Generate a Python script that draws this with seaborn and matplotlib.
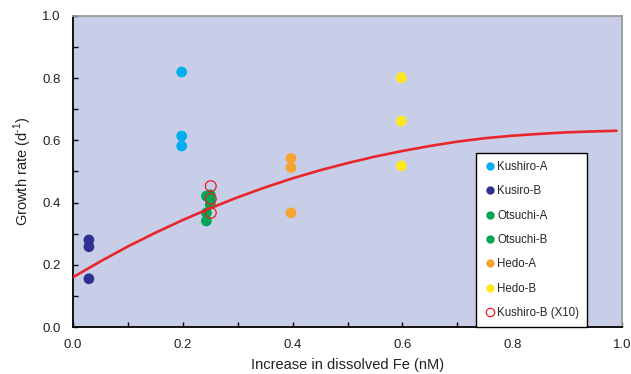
import matplotlib
matplotlib.use("Agg")
import matplotlib.pyplot as plt
from matplotlib.lines import Line2D
from matplotlib.ticker import MultipleLocator
import seaborn as sns
import pandas as pd

# ---- data ----
kushiro_a_x = [0.198, 0.198, 0.198]
kushiro_a_y = [0.820, 0.614, 0.582]
kusiro_b_x = [0.029, 0.029, 0.029]
kusiro_b_y = [0.280, 0.258, 0.155]
otsuchi_a_x = [0.243, 0.243, 0.243]
otsuchi_a_y = [0.421, 0.367, 0.341]
otsuchi_b_x = [0.250, 0.250, 0.250]
otsuchi_b_y = [0.425, 0.410, 0.394]
hedo_a_x = [0.397, 0.397, 0.397]
hedo_a_y = [0.542, 0.513, 0.367]
hedo_b_x = [0.598, 0.598, 0.598]
hedo_b_y = [0.802, 0.662, 0.518]
kushiro_b10_x = [0.251, 0.251, 0.251]
kushiro_b10_y = [0.453, 0.412, 0.367]

fit_x = [0.0, 0.05, 0.1, 0.15, 0.2, 0.25, 0.3, 0.35, 0.4, 0.45, 0.5, 0.55, 0.6, 0.65, 0.7, 0.75, 0.8, 0.85, 0.9, 0.95, 0.99]
fit_y = [0.160, 0.211, 0.259, 0.303, 0.344, 0.382, 0.417, 0.449, 0.478, 0.504, 0.527, 0.548, 0.566, 0.582, 0.596, 0.607, 0.615, 0.621, 0.626, 0.629, 0.631]

series = ["Kushiro-A", "Kusiro-B", "Otsuchi-A", "Otsuchi-B", "Hedo-A", "Hedo-B"]
colors = ["#00AEEF", "#2E3192", "#00A651", "#00A651", "#F5A331", "#FFE81F"]
open_label = "Kushiro-B (X10)"
red = "#ED1C24"

xs = [kushiro_a_x, kusiro_b_x, otsuchi_a_x, otsuchi_b_x, hedo_a_x, hedo_b_x]
ys = [kushiro_a_y, kusiro_b_y, otsuchi_a_y, otsuchi_b_y, hedo_a_y, hedo_b_y]
rows = []
for name, xv, yv in zip(series, xs, ys):
    for a, b in zip(xv, yv):
        rows.append({"x": a, "y": b, "site": name})
df = pd.DataFrame(rows)
df_open = pd.DataFrame({"x": kushiro_b10_x, "y": kushiro_b10_y})
df_fit = pd.DataFrame({"x": fit_x, "y": fit_y})

sns.set_theme(style="white")
plt.rcParams["font.family"] = ["Liberation Sans", "DejaVu Sans"]
plt.rcParams["mathtext.fontset"] = "custom"
plt.rcParams["mathtext.rm"] = "Liberation Sans"

fig = plt.figure(figsize=(6.31, 3.74), dpi=100)
ax = fig.add_axes([73 / 631, 1 - 327 / 374, 549 / 631, 311 / 374])
ax.set_facecolor("#C9CEE8")

sns.scatterplot(data=df, x="x", y="y", hue="site", hue_order=series,
                palette=dict(zip(series, colors)), s=60, linewidth=0,
                legend=False, ax=ax, zorder=3)
sns.lineplot(data=df_fit, x="x", y="y", color="#E8262B", linewidth=1.9,
             ax=ax, zorder=4)
sns.scatterplot(data=df_open, x="x", y="y", s=60, facecolors="none",
                edgecolor=red, linewidth=0.9, ax=ax, zorder=5)

ax.set_xlim(0, 1.0)
ax.set_ylim(0, 1.0)
ax.xaxis.set_major_locator(MultipleLocator(0.2))
ax.xaxis.set_minor_locator(MultipleLocator(0.1))
ax.yaxis.set_major_locator(MultipleLocator(0.2))
ax.yaxis.set_minor_locator(MultipleLocator(0.1))
ax.xaxis.set_major_formatter(matplotlib.ticker.FormatStrFormatter("%.1f"))
ax.yaxis.set_major_formatter(matplotlib.ticker.FormatStrFormatter("%.1f"))
ax.tick_params(which="both", direction="in", length=3.5, width=1.0,
               color="black", labelsize=9.5, labelcolor="#222222",
               bottom=True, left=True, top=False, right=False, pad=9)

for side in ["left", "bottom"]:
    ax.spines[side].set_color("black")
    ax.spines[side].set_linewidth(1.3)
for side in ["top", "right"]:
    ax.spines[side].set_color("#9a9a9a")
    ax.spines[side].set_linewidth(1.3)

ax.set_xlabel("Increase in dissolved Fe (nM)", fontsize=10.5, color="#222222", labelpad=5)
ax.set_ylabel("Growth rate (d$^{\\text{-}1}$)",
              fontsize=10.5, color="#222222", labelpad=6)

handles = [Line2D([], [], marker="o", linestyle="none", markersize=6,
                  markerfacecolor=c, markeredgecolor="none", label=n)
           for n, c in zip(series, colors)]
handles.append(Line2D([], [], marker="o", linestyle="none", markersize=6,
                      markerfacecolor="none", markeredgecolor=red,
                      markeredgewidth=0.9, label=open_label))
leg = ax.legend(handles=handles, loc="lower left",
                bbox_to_anchor=(403 / 549, 0.0), fontsize=8.3,
                frameon=True, fancybox=False, framealpha=1,
                edgecolor="black", labelspacing=1.07, handletextpad=0.15,
                handlelength=1.0, borderpad=0.7, borderaxespad=0)
leg.get_frame().set_linewidth(1.0)
leg.set_zorder(10)

fig.savefig("out.png", dpi=100, facecolor="white")
